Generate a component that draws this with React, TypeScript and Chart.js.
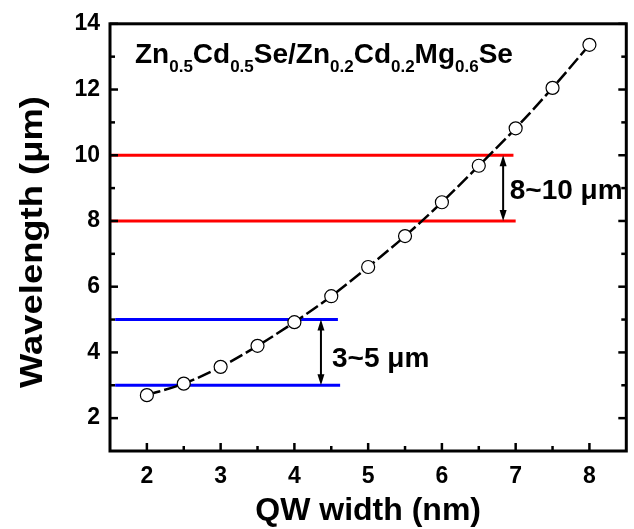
import React, { useEffect, useRef } from "react";
import { Chart, registerables } from "chart.js";

Chart.register(...registerables);

// ---- data ----
const qwWidth = [2, 2.5, 3, 3.5, 4, 4.5, 5, 5.5, 6, 6.5, 7, 7.5, 8];
const wavelength = [2.7, 3.05, 3.56, 4.2, 4.92, 5.71, 6.6, 7.54, 8.57, 9.68, 10.82, 12.05, 13.36];

const redLineY = [10, 8];
const redLineStart = [1.5, 1.5];
const redLineEnd = [6.97, 7.0];

const blueLineY = [5, 3];
const blueLineStart = [1.57, 1.57];
const blueLineEnd = [4.59, 4.62];

const arrowX = [4.36, 6.83];
const arrowFrom = [3, 8];
const arrowTo = [5, 10];

const xTicks = [2, 3, 4, 5, 6, 7, 8];
const xMinorTicks = [2.5, 3.5, 4.5, 5.5, 6.5, 7.5];
const yTicks = [2, 4, 6, 8, 10, 12, 14];
const yMinorTicks = [3, 5, 7, 9, 11, 13];

const annotationTexts = ["3~5 \u03bcm", "8~10 \u03bcm"];
const annotationX = [4.51, 6.92];
const annotationY = [3.56, 8.67];

const titleParts: [string, boolean][] = [
  ["Zn", false], ["0.5", true], ["Cd", false], ["0.5", true], ["Se/Zn", false],
  ["0.2", true], ["Cd", false], ["0.2", true], ["Mg", false], ["0.6", true], ["Se", false],
];

const FONT = '"Liberation Sans", Arial, sans-serif';

const framePlugin = {
  id: "framePlugin",
  afterDraw(chart: any) {
    const { ctx, chartArea, scales } = chart;
    const xs = scales.x;
    const ys = scales.y;
    const { left, right, top, bottom } = chartArea;
    ctx.save();
    ctx.strokeStyle = "#000";
    ctx.fillStyle = "#000";
    ctx.lineWidth = 3;
    ctx.strokeRect(left, top, right - left, bottom - top);
    ctx.lineWidth = 2.5;
    const tick = (x1: number, y1: number, x2: number, y2: number) => {
      ctx.beginPath();
      ctx.moveTo(x1, y1);
      ctx.lineTo(x2, y2);
      ctx.stroke();
    };
    xTicks.forEach((v) => { const p = xs.getPixelForValue(v); tick(p, bottom, p, bottom - 8); });
    xMinorTicks.forEach((v) => { const p = xs.getPixelForValue(v); tick(p, bottom, p, bottom - 5); });
    yTicks.forEach((v) => {
      const p = ys.getPixelForValue(v);
      tick(left, p, left + 8, p);
      tick(right, p, right - 8, p);
    });
    yMinorTicks.forEach((v) => {
      const p = ys.getPixelForValue(v);
      tick(left, p, left + 5, p);
      tick(right, p, right - 5, p);
    });

    // arrows
    ctx.lineWidth = 2;
    arrowX.forEach((ax, i) => {
      const px = xs.getPixelForValue(ax);
      const y1 = ys.getPixelForValue(arrowFrom[i]);
      const y2 = ys.getPixelForValue(arrowTo[i]);
      ctx.beginPath();
      ctx.moveTo(px, y1 - 6);
      ctx.lineTo(px, y2 + 6);
      ctx.stroke();
      const head = (ty: number, dir: number) => {
        ctx.beginPath();
        ctx.moveTo(px, ty);
        ctx.lineTo(px - 3.5, ty + dir * 11);
        ctx.lineTo(px + 3.5, ty + dir * 11);
        ctx.closePath();
        ctx.fill();
      };
      head(y2, 1);
      head(y1, -1);
    });

    // annotations
    ctx.font = `bold 28px ${FONT}`;
    ctx.textAlign = "left";
    ctx.textBaseline = "alphabetic";
    annotationTexts.forEach((t, i) => {
      ctx.fillText(t, xs.getPixelForValue(annotationX[i]), ys.getPixelForValue(annotationY[i]));
    });

    // title with subscripts
    let tx = 135;
    const base = 63;
    titleParts.forEach(([t, sub]) => {
      ctx.font = sub ? `bold 17px ${FONT}` : `bold 28px ${FONT}`;
      ctx.fillText(t, tx, sub ? base + 9 : base);
      tx += ctx.measureText(t).width;
    });

    // x axis title
    ctx.font = `bold 32px ${FONT}`;
    ctx.textAlign = "center";
    ctx.fillText("QW width (nm)", (left + right) / 2, 520);

    // y axis title
    ctx.save();
    ctx.translate(42, 242);
    ctx.rotate(-Math.PI / 2);
    ctx.font = `bold 31px ${FONT}`;
    const label = "Wavelength (\u03bcm)";
    const w = ctx.measureText(label).width;
    ctx.scale(292 / w, 1);
    ctx.textAlign = "center";
    ctx.fillText(label, 0, 0);
    ctx.restore();

    ctx.restore();
  },
};

export default function App() {
  const canvasRef = useRef<HTMLCanvasElement | null>(null);

  useEffect(() => {
    document.body.style.margin = "0";
    const canvas = canvasRef.current;
    if (!canvas) return;

    const lineDs = (ys: number[], starts: number[], ends: number[], color: string) =>
      ys.map((y, i) => ({
        data: [{ x: starts[i], y }, { x: ends[i], y }],
        showLine: true,
        borderColor: color,
        borderWidth: 3,
        pointRadius: 0,
        fill: false,
      }));

    const chart = new Chart(canvas, {
      type: "scatter",
      data: {
        datasets: [
          {
            data: qwWidth.map((x, i) => ({ x, y: wavelength[i] })),
            showLine: true,
            borderColor: "#000",
            borderWidth: 2.5,
            borderDash: [14, 4],
            cubicInterpolationMode: "monotone",
            pointRadius: 6.5,
            pointBackgroundColor: "#fff",
            pointBorderColor: "#000",
            pointBorderWidth: 1.2,
            fill: false,
          } as any,
          ...lineDs(redLineY, redLineStart, redLineEnd, "#ff0000"),
          ...lineDs(blueLineY, blueLineStart, blueLineEnd, "#0000ff"),
        ],
      },
      options: {
        responsive: false,
        animation: false,
        layout: { padding: { left: 0, right: 2, top: 20, bottom: 0 } },
        plugins: { legend: { display: false }, tooltip: { enabled: false } },
        scales: {
          x: {
            type: "linear",
            min: 1.5,
            max: 8.5,
            grid: { display: false, drawTicks: false },
            border: { display: false },
            afterFit: (s: any) => { s.height = 78; },
            afterBuildTicks: (s: any) => { s.ticks = xTicks.map((v) => ({ value: v })); },
            ticks: {
              padding: 12,
              color: "#000",
              font: { family: FONT, size: 23, weight: "bold" },
            },
          },
          y: {
            type: "linear",
            min: 1,
            max: 14,
            grid: { display: false, drawTicks: false },
            border: { display: false },
            afterFit: (s: any) => { s.width = 110; },
            afterBuildTicks: (s: any) => { s.ticks = yTicks.map((v) => ({ value: v })); },
            ticks: {
              padding: 10,
              color: "#000",
              font: { family: FONT, size: 23, weight: "bold" },
            },
          },
        },
      } as any,
      plugins: [framePlugin],
    });
    return () => chart.destroy();
  }, []);

  return (
    <div style={{ position: "absolute", left: 0, top: 0, width: 634, height: 529 }}>
      <canvas ref={canvasRef} width={634} height={529} />
    </div>
  );
}
